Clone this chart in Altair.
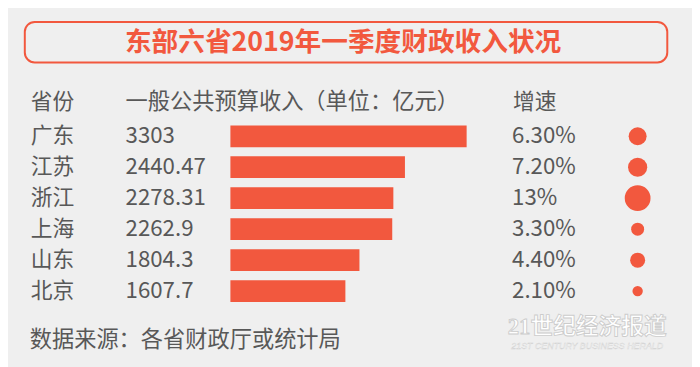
import altair as alt
import pandas as pd

provinces = ["广东", "江苏", "浙江", "上海", "山东", "北京"]
revenue = [3303, 2440.47, 2278.31, 2262.9, 1804.3, 1607.7]
growth = [6.3, 7.2, 13, 3.3, 4.4, 2.1]
growth_labels = ["6.30%", "7.20%", "13%", "3.30%", "4.40%", "2.10%"]

title = "东部六省2019年一季度财政收入状况"
header_province = "省份"
header_revenue = "一般公共预算收入（单位：亿元）"
header_growth = "增速"
source = "数据来源：各省财政厅或统计局"
wm_cn = "21世纪经济报道"
wm_en = "21ST CENTURY BUSINESS HERALD"

ORANGE = "#f2583e"
GRAY = "#585858"
FONT = "Noto Sans CJK SC"

df = pd.DataFrame({
    "province": provinces,
    "revenue": revenue,
    "rev_label": [f"{v:g}" for v in revenue],
    "growth": growth,
    "growth_label": growth_labels,
})
one = pd.DataFrame({"k": [0]})

yenc = alt.Y("province:N", sort=provinces, axis=None,
             scale=alt.Scale(domain=provinces, range=[112, 300], paddingInner=0, paddingOuter=0))

base = alt.Chart(df)

box = alt.Chart(one).mark_rect(cornerRadius=10, fillOpacity=0, stroke=ORANGE, strokeWidth=2).encode(
    x=alt.value(17), x2=alt.value(667), y=alt.value(12), y2=alt.value(53))

title_t = alt.Chart(one).mark_text(text=title, font=FONT, fontSize=27, fontWeight="bold",
                                   color=ORANGE, align="center", baseline="middle").encode(
    x=alt.value(339), y=alt.value(33))

def static_text(txt, x, y, size=22, color=GRAY, align="left", **kw):
    return alt.Chart(one).mark_text(text=txt, font=kw.pop("font", FONT), fontSize=size, color=color,
                                    align=align, baseline="middle", **kw).encode(
        x=alt.value(x), y=alt.value(y))

h1 = static_text(header_province, 23, 93)
h2 = static_text(header_revenue, 119, 93, size=22.5)
h3 = static_text(header_growth, 511, 93)

prov_t = base.mark_text(font=FONT, fontSize=22, color=GRAY, align="left", baseline="middle").encode(
    x=alt.value(23), y=yenc, text="province:N")
rev_t = base.mark_text(font=FONT, fontSize=22.5, color=GRAY, align="left", baseline="middle").encode(
    x=alt.value(119), y=yenc, text="rev_label:N")
gr_t = base.mark_text(font=FONT, fontSize=22.5, color=GRAY, align="left", baseline="middle").encode(
    x=alt.value(510), y=yenc, text="growth_label:N")

bars = base.mark_bar(size=22, color=ORANGE).encode(
    x=alt.X("revenue:Q", axis=None, scale=alt.Scale(domain=[0, 3303], range=[225, 464])),
    y=yenc)

dots = base.mark_circle(color=ORANGE, opacity=1).encode(
    x=alt.value(637), y=yenc,
    size=alt.Size("growth:Q", legend=None, scale=alt.Scale(domain=[0, 13], range=[0, 680])))

foot = static_text(source, 22, 334, size=22.5)

wm = static_text(wm_cn, 586, 321, size=23, color="#ffffff", align="center", fontWeight="bold",
                 font="Liberation Serif, Noto Sans CJK SC", stroke="#cccccc", strokeWidth=0.9)
wm2 = static_text(wm_en, 586, 340, size=9, color="#ffffff", align="center", fontStyle="italic",
                  font="Liberation Sans", stroke="#d0d0d0", strokeWidth=0.4)

chart = alt.layer(box, title_t, h1, h2, h3, bars, dots, prov_t, rev_t, gr_t, foot, wm, wm2).properties(
    width=692, height=359, padding=0, autosize=alt.AutoSizeParams(type="none"),
    background="#efefef"
).configure_view(strokeWidth=0)

chart.save("out.html", embed_options={"renderer": "svg", "actions": False})
